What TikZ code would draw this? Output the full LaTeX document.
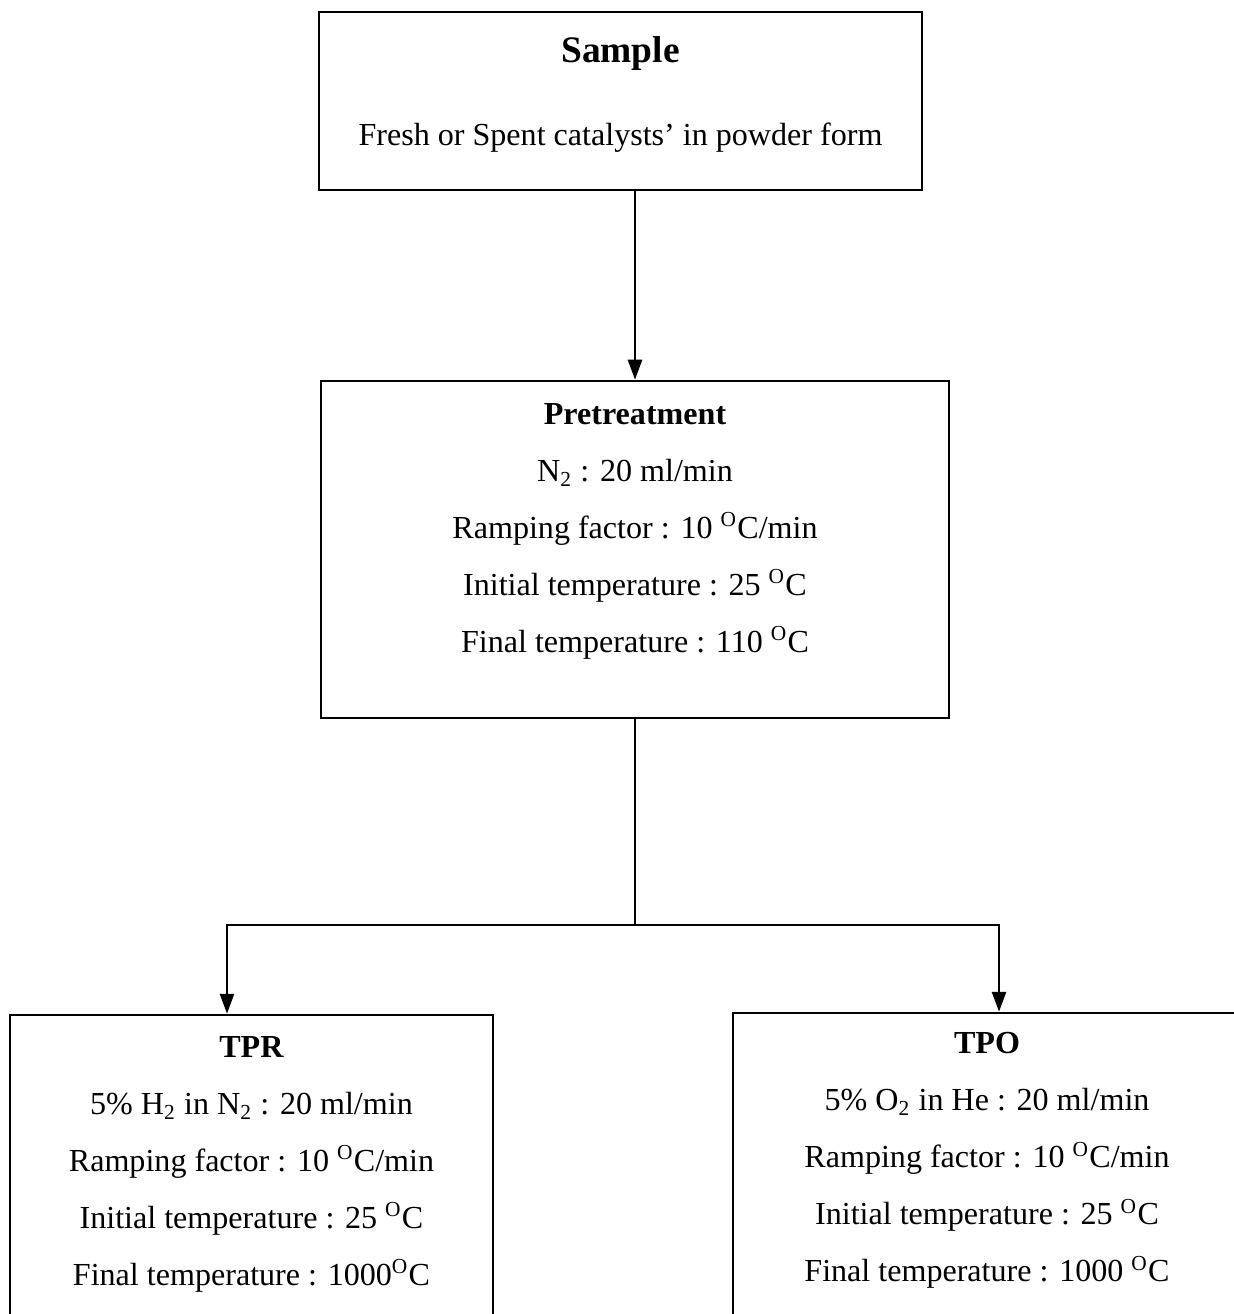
\documentclass[tikz,border=0pt]{standalone}
\usepackage{fontspec}
\setmainfont{Liberation Serif}
\usetikzlibrary{arrows.meta,positioning}
\newcommand{\pxu}{0.374pt}
\tikzstyle{stagebox}=[draw,rectangle,line width=0.9pt,inner sep=0pt]
\tikzstyle{stagetext}=[align=center,inner sep=0pt,font=\fontsize{12}{21.3}\selectfont]
\tikzstyle{link} = [draw,line width=1.1pt]
\tikzstyle{arrowlink} = [draw,line width=1.1pt,-{Triangle[length=7.5pt,width=5.2pt]}]

\begin{document}
\begin{tikzpicture}[x=\pxu,y=-\pxu]
    \path[use as bounding box,clip] (0,0) rectangle (1234,1314);
    % First we draw the boxes
    \foreach \pos/\name/\w/\h in {{(620.5,101)/sample/603/178}, {(635,549.5)/pre/628/337}, {(251.5,1177.5)/tpr/483/325}, {(987,1176.5)/tpo/508/327}}
        \node[stagebox,minimum width=\w*\pxu,minimum height=\h*\pxu] (\name) at \pos {};

    % Then the texts inside them
    \node[stagetext,below=9.5pt of sample.north] (sampletxt)
        {{\fontsize{14}{21.3}\selectfont\bfseries Sample}\\[9.8pt]
         Fresh or Spent catalysts' in powder form};
    \node[stagetext,below=8.6pt of pre.north] (pretxt)
        {\textbf{Pretreatment}\\
         N\textsubscript{2} : 20 ml/min\\
         Ramping factor : 10 \textsuperscript{O}C/min\\
         Initial temperature : 25 \textsuperscript{O}C\\
         Final temperature : 110 \textsuperscript{O}C};
    \node[stagetext,below=8.3pt of tpr.north] (tprtxt)
        {\textbf{TPR}\\
         5\% H\textsubscript{2} in N\textsubscript{2} : 20 ml/min\\
         Ramping factor : 10 \textsuperscript{O}C/min\\
         Initial temperature : 25 \textsuperscript{O}C\\
         Final temperature : 1000\textsuperscript{O}C};
    \node[stagetext,below=7.6pt of tpo.north] (tpotxt)
        {\textbf{TPO}\\
         5\% O\textsubscript{2} in He : 20 ml/min\\
         Ramping factor : 10 \textsuperscript{O}C/min\\
         Initial temperature : 25 \textsuperscript{O}C\\
         Final temperature : 1000 \textsuperscript{O}C};

    % Connect the boxes
    \coordinate (split) at (635,925);
    \coordinate (lft) at (227,925);
    \coordinate (rgt) at (999,925);
    \path[arrowlink] (sample.south -| pre.north) -- (pre.north);
    \path[link] (pre.south) -- (split);
    \path[arrowlink] (split) -| (lft |- tpr.north);
    \path[arrowlink] (split) -| (rgt |- tpo.north);
\end{tikzpicture}
\end{document}
